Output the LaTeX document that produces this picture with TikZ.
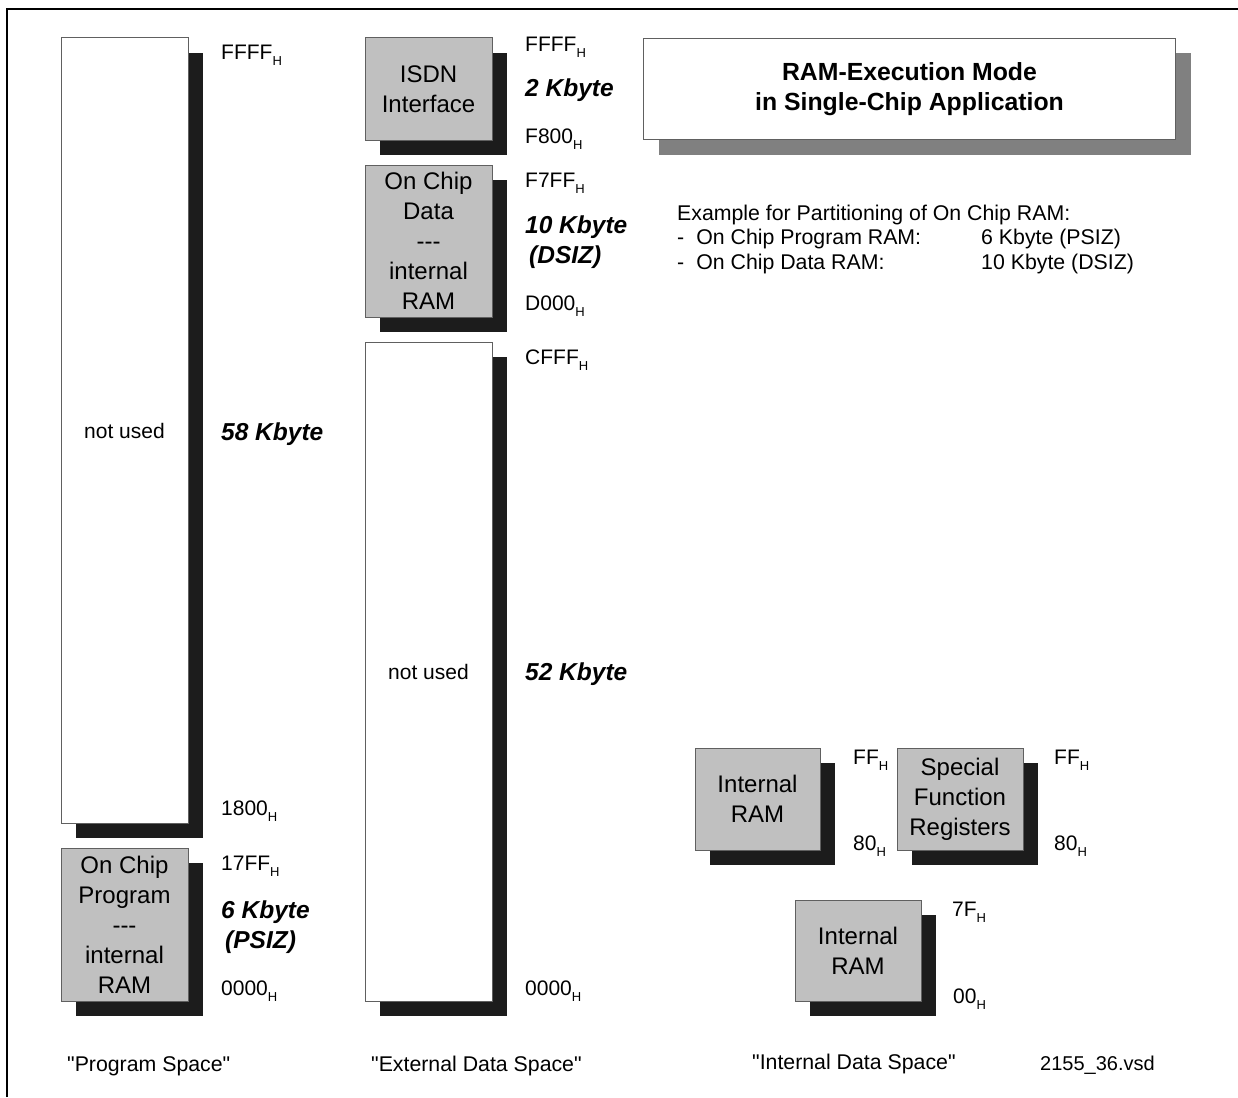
\documentclass[tikz,border=0pt]{standalone}
\usepackage{fontspec}
\setmainfont{Liberation Sans}[Ligatures=TeXOff]
\usetikzlibrary{shadows}
\definecolor{shad}{HTML}{1C1C1C}
\definecolor{boxgray}{HTML}{C0C0C0}
\definecolor{edgec}{HTML}{606060}
\definecolor{titleshad}{HTML}{808080}
\newcommand\addrH[1]{#1\raisebox{-6pt}{\fontsize{13}{13}\selectfont H}}
\newcommand\qq{"}
\begin{document}
\begin{tikzpicture}[x=1pt,y=-1pt,
  mem/.style={draw=edgec, line width=1pt, inner sep=0pt, outer sep=0pt, anchor=north west, align=center,
    font=\fontsize{24}{30}\selectfont,
    drop shadow={shadow xshift=15pt, shadow yshift=-15pt, fill=shad, opacity=1}},
  graymem/.style={mem, fill=boxgray},
  whitemem/.style={mem, fill=white, font=\fontsize{21}{26}\selectfont},
  addr/.style={anchor=base west, inner sep=0pt, font=\fontsize{21}{24}\selectfont},
  sizelbl/.style={anchor=base west, inner sep=0pt, font=\fontsize{24.5}{30}\selectfont\bfseries\itshape},
  plain/.style={anchor=base west, inner sep=0pt, font=\fontsize{21.3}{26}\selectfont}
]
\useasboundingbox (0,0) rectangle (1238,1097);
\fill[white] (0,0) rectangle (1238,1097);
\coordinate (fa) at (7,1097);
\coordinate (fb) at (7,9);
\coordinate (fc) at (1238,9);
\draw[line width=2pt] (fa) -- (fb) -- (fc);

% ---------- Program space ----------
\node[whitemem, minimum width=127pt, minimum height=785pt] (pnu) at (61,38) {not used};
\node[graymem, minimum width=127pt, minimum height=153pt] (pram) at (61,848)
  {On Chip\\Program\\-{}-{}-\\internal\\RAM};
\node[addr] (pa1) at (221,60) {\addrH{FFFF}};
\node[sizelbl] (ps1) at (221,440) {58 Kbyte};
\node[addr] (pa2) at (221,815) {\addrH{1800}};
\node[addr] (pa3) at (221,870) {\addrH{17FF}};
\node[sizelbl] (ps2) at (221,918) {6 Kbyte};
\node[sizelbl] (ps3) at (225,948) {(PSIZ)};
\node[addr] (pa4) at (221,995) {\addrH{0000}};
\node[plain] (pl) at (67,1071) {\qq Program Space\qq};

% ---------- External data space ----------
\node[graymem, minimum width=127pt, minimum height=102pt] (isdn) at (365,38) {ISDN\\Interface};
\node[graymem, minimum width=127pt, minimum height=152pt] (dram) at (365,165)
  {On Chip\\Data\\-{}-{}-\\internal\\RAM};
\node[whitemem, minimum width=127pt, minimum height=659pt] (enu) at (365,342) {not used};
\node[addr] (ea1) at (525,52) {\addrH{FFFF}};
\node[sizelbl] (es1) at (525,96) {2 Kbyte};
\node[addr] (ea2) at (525,143) {\addrH{F800}};
\node[addr] (ea3) at (525,187) {\addrH{F7FF}};
\node[sizelbl] (es2) at (525,233) {10 Kbyte};
\node[sizelbl] (es3) at (529,263) {(DSIZ)};
\node[addr] (ea4) at (525,310) {\addrH{D000}};
\node[addr] (ea5) at (525,364) {\addrH{CFFF}};
\node[sizelbl] (es4) at (525,680) {52 Kbyte};
\node[addr] (ea6) at (525,995) {\addrH{0000}};
\node[plain] (el) at (371,1071) {\qq External Data Space\qq};

% ---------- Title ----------
\node[draw=edgec, line width=1pt, fill=white, anchor=north west, inner sep=0pt,
  minimum width=532pt, minimum height=101pt, align=center,
  font=\fontsize{24.8}{30}\selectfont\bfseries,
  drop shadow={shadow xshift=15pt, shadow yshift=-15pt, fill=titleshad, opacity=1}]
  (title) at (643,38) {RAM-Execution Mode\\in Single-Chip Application};

\node[plain] (ex0) at (677,220) {Example for Partitioning of On Chip RAM:};
\node[plain] (ex1) at (677,244) {-\hspace{12pt}On Chip Program RAM:};
\node[plain] (ex2) at (981,244) {6 Kbyte (PSIZ)};
\node[plain] (ex3) at (677,269) {-\hspace{12pt}On Chip Data RAM:};
\node[plain] (ex4) at (981,269) {10 Kbyte (DSIZ)};

% ---------- Internal data space ----------
\node[graymem, minimum width=125pt, minimum height=102pt] (iram1) at (695,748) {Internal\\RAM};
\node[graymem, minimum width=126pt, minimum height=102pt] (sfr) at (897,748) {Special\\Function\\Registers};
\node[graymem, minimum width=126pt, minimum height=101pt] (iram2) at (795,900) {Internal\\RAM};
\node[addr] (ia1) at (853,764) {\addrH{FF}};
\node[addr] (ia2) at (853,850) {\addrH{80}};
\node[addr] (ia3) at (1054,764) {\addrH{FF}};
\node[addr] (ia4) at (1054,850) {\addrH{80}};
\node[addr] (ia5) at (952,916) {\addrH{7F}};
\node[addr] (ia6) at (953,1003) {\addrH{00}};
\node[plain] (il) at (752,1069) {\qq Internal Data Space\qq};
\node[anchor=base west, inner sep=0pt, font=\fontsize{20}{22}\selectfont] (vsd) at (1040,1070) {2155\_36.vsd};
\end{tikzpicture}
\end{document}
